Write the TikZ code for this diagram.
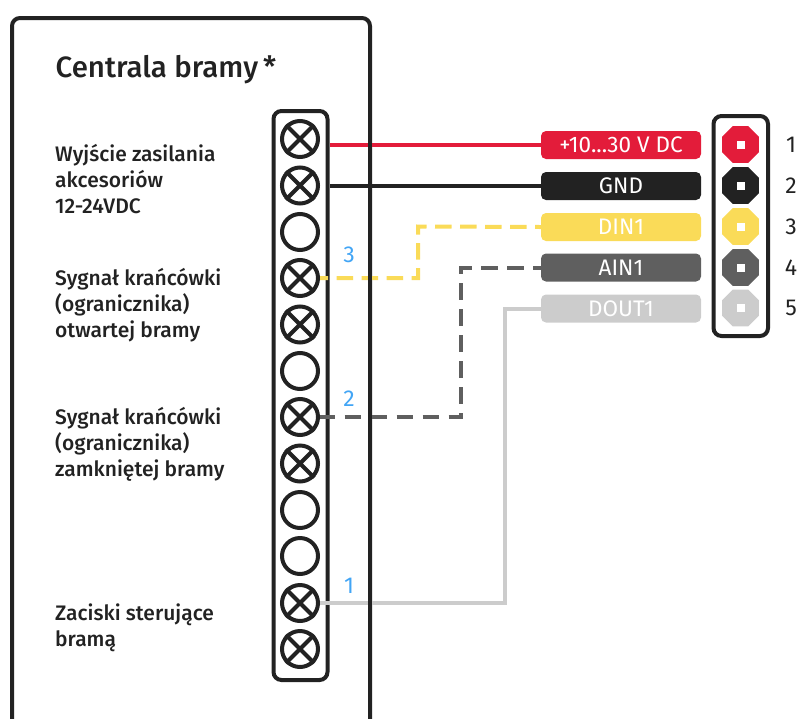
\documentclass[tikz,border=0pt]{standalone}
\usepackage{fontspec}
\setmainfont{Fira Sans Medium}
\newfontfamily\regfont{Fira Sans}
\usetikzlibrary{shapes.geometric,calc}
\definecolor{ink}{HTML}{222222}
\definecolor{cred}{HTML}{E31C3A}
\definecolor{cyel}{HTML}{FADB58}
\definecolor{cdark}{HTML}{5F5F5F}
\definecolor{clight}{HTML}{CCCCCC}
\definecolor{cblue}{HTML}{42A5F5}
\tikzset{
  frameline/.style={draw=ink,line width=4pt,rounded corners=8pt},
  terminal/.style={circle,draw=ink,line width=4pt,minimum size=36pt,inner sep=0pt},
  pill/.style={rectangle,rounded corners=5pt,minimum width=160pt,minimum height=28pt,inner sep=0pt,text=white,font=\regfont\fontsize{22.5}{22.5}\selectfont},
  wire/.style={line width=4pt},
  yelwire/.style={line width=4pt,dash pattern=on 16.5pt off 8.5pt,dash phase=8.5pt},
  darkwire/.style={line width=4pt,dash pattern=on 16.5pt off 9.5pt,dash phase=1.5pt},
  oct/.style={regular polygon,regular polygon sides=8,minimum size=40pt,inner sep=0pt},
  label/.style={anchor=west,text=ink,font=\fontsize{21}{26}\selectfont,align=left,inner sep=0pt},
  num/.style={text=ink,font=\regfont\fontsize{23}{23}\selectfont,inner sep=0pt},
  bluenum/.style={text=cblue,font=\regfont\fontsize{23}{23}\selectfont,inner sep=0pt}
}
\begin{document}
\begin{tikzpicture}[x=1pt,y=-1pt]
\useasboundingbox (0,0) rectangle (797,718);
% main box, open at the bottom edge
\draw[frameline] (12,730) -- (12,18) -- (370,18) -- (370,730);
\node[anchor=west,text=ink,inner sep=0pt,font=\fontsize{29.4}{29.4}\selectfont] (title) at (55.5,69.5) {Centrala bramy\,*};
\node[label] (l1) at (55,179) {Wyjście zasilania\\akcesoriów\\12-24VDC};
\node[label] (l2) at (55,305.5) {Sygnał krańcówki\\(ogranicznika)\\otwartej bramy};
\node[label] (l3) at (55,444.5) {Sygnał krańcówki\\(ogranicznika)\\zamkniętej bramy};
\node[label] (l4) at (55,627.5) {Zaciski sterujące\\bramą};
% pills
\node[pill,fill=cred]   (p1) at (621,145) {+10...30 V DC};
\node[pill,fill=ink]    (p2) at (621,186) {GND};
\node[pill,fill=cyel]   (p3) at (621,227) {DIN1};
\node[pill,fill=cdark]  (p4) at (621,267.5) {AIN1};
\node[pill,fill=clight] (p5) at (621,308.5) {DOUT1};
% terminal strip
\draw[frameline] (273.5,111) rectangle (327.5,680);
\foreach \n/\y in {1/139,2/185.5,3/232,4/278,5/324.5,6/371,7/417,8/463.5,9/510,10/556,11/603,12/649}
  \node[terminal] (t\n) at (300,\y) {};
\foreach \n in {1,2,4,5,7,8,11,12}
  \draw[ink,line width=4pt] (t\n.north west) -- (t\n.south east) (t\n.north east) -- (t\n.south west);
% coordinates for wire ends
\coordinate (w1) at (329.5,144.5);
\coordinate (w2) at (329.5,185.5);
% wires
\draw[wire,cred] (w1) -- (p1.west |- w1);
\draw[wire,ink] (w2) -- (p2.west |- w2);
\draw[yelwire,cyel] (t4.east) -- (418,278) -- (418,226.5) -- (p3.west);
\draw[darkwire,cdark] (t7.east) -- (461,417) -- (461,267.5) -- (p4.west);
\draw[wire,clight] (t11.east) -- (504.5,603) -- (504.5,308.5) -- (p5.west);
\draw[ink,line width=4pt] (370,100) -- (370,730);
% blue numbers
\node[bluenum] (b3) at (349,254.5) {3};
\node[bluenum] (b2) at (349,398.5) {2};
\node[bluenum] (b1) at (349,585.5) {1};
% connector
\draw[frameline] (713.5,116) rectangle (768,336);
\foreach \n/\y/\c in {1/144.5/cred,2/185.5/ink,3/226.5/cyel,4/267.5/cdark,5/308/clight}{
  \node[oct,fill=\c] (o\n) at (740.5,\y) {};
  \node[fill=white,minimum size=8pt,inner sep=0pt] (s\n) at (o\n) {};
  \node[num] (n\n) at (791,\y) {\n};
}
\end{tikzpicture}
\end{document}
